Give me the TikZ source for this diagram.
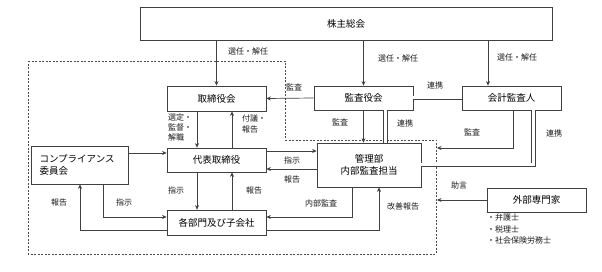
\documentclass[tikz,border=0pt]{standalone}
\usepackage{fontspec}
\newfontfamily\jp{Noto Sans CJK JP}
\usetikzlibrary{arrows.meta}
\begin{document}
\begin{tikzpicture}[x=1pt,y=-1pt,
  box/.style={draw=black!75, line width=0.7pt, font=\jp\fontsize{9.5}{12}\selectfont, inner sep=0pt, align=center, text=black},
  lbl/.style={font=\jp\fontsize{8}{10}\selectfont, inner sep=0pt, text=black!90},
  arr/.style={draw=black!75, line width=0.7pt, -{Stealth[length=4.5pt,width=4pt]}},
  dbl/.style={draw=black!75, line width=0.6pt, double=white, double distance=3pt},
  bnd/.style={draw=black!70, line width=0.7pt, dash pattern=on 2pt off 1.5pt}]
\useasboundingbox (0,0) rectangle (602,272);

% dashed boundary
\draw[bnd] (28,61) -- (285,61) -- (285,140) -- (436,140) -- (436,254) -- (28,254) -- cycle;

% boxes
\node[box, minimum width=412pt, minimum height=33pt] (sh) at (346,23.5) {株主総会};
\node[box, minimum width=99pt, minimum height=25pt] (tb) at (216.5,98.5) {取締役会};
\node[box, minimum width=99pt, minimum height=24pt] (ka) at (363.5,98) {監査役会};
\node[box, minimum width=99pt, minimum height=24pt] (kk) at (511.5,98) {会計監査人};
\node[box, minimum width=99pt, minimum height=24pt] (dh) at (216.5,160) {代表取締役};
\node[box, minimum height=38pt, text width=80pt, inner xsep=8.5pt, align=left] (cp) at (79.5,165) {コンプライアンス\\委員会};
\node[box, minimum width=99pt, minimum height=25pt] (kb) at (216.5,222.5) {各部門及び子会社};
\node[box, minimum width=104pt, minimum height=44pt] (kr) at (369,165) {管理部\\内部監査担当};
\node[box, minimum width=99pt, minimum height=24pt] (gb) at (536.5,200) {外部専門家};

% helper coordinates
\coordinate (x488) at (488,0);
\coordinate (x386) at (385.5,0);
\coordinate (x513) at (513,0);
\coordinate (x533) at (533.5,0);
\coordinate (x197) at (197,0);
\coordinate (x232) at (232,0);
\coordinate (x103) at (103,0);
\coordinate (x80) at (80,0);
\coordinate (x352) at (352,0);
\coordinate (x379) at (379,0);
\coordinate (y153) at (0,153);
\coordinate (y151) at (0,151);
\coordinate (y169) at (0,169);
\coordinate (y217) at (0,217);
\coordinate (y230) at (0,230);
\coordinate (b1) at (437,148);
\coordinate (b2) at (437,200);

% connectors
\draw[arr] (tb.north |- sh.south) -- (tb.north);
\draw[arr] (ka.north |- sh.south) -- (ka.north);
\draw[arr] (sh.south -| x488) -- (kk.north -| x488);
\draw[arr] (ka.west) -- (tb.east);
\draw[dbl] (ka.east) -- (kk.west);
\draw[arr] (ka.south) -- (ka.south |- kr.north);
\draw[dbl] (ka.south -| x386) -- (kr.north -| x386);
\draw[arr] (kk.south -| x513) |- (b1);
\draw[dbl] (kk.south -| x533) |- (kr.east);
\draw[arr] (tb.south -| x197) -- (dh.north -| x197);
\draw[arr] (dh.north -| x232) -- (tb.south -| x232);
\draw[arr] (cp.east |- y153) -- (dh.west |- y153);
\draw[arr] (dh.south -| x197) -- (kb.north -| x197);
\draw[arr] (kb.north -| x232) -- (dh.south -| x232);
\draw[arr] (cp.south -| x103) |- (kb.west |- y217);
\draw[arr] (kb.west |- y230) -| (cp.south -| x80);
\draw[arr] (dh.east |- y151) -- (kr.west |- y151);
\draw[arr] (kr.west |- y169) -- (dh.east |- y169);
\draw[arr] (kr.south -| x352) |- (kb.east |- y217);
\draw[arr] (kb.east |- y230) -| (kr.south -| x379);
\draw[arr] (gb.west) -- (b2);

% labels
\node[lbl] (l1) at (248,51) {選任・解任};
\node[lbl] (l2) at (398,58) {選任・解任};
\node[lbl] (l3) at (517,57) {選任・解任};
\node[lbl] (l4) at (294,87) {監査};
\node[lbl] (l5) at (435,85) {連携};
\node[lbl] (l6) at (340,122) {監査};
\node[lbl] (l7) at (405,123) {連携};
\node[lbl] (l8) at (472,132) {監査};
\node[lbl] (l9) at (554,133) {連携};
\node[lbl, align=left, anchor=north west, font=\jp\fontsize{8}{10}\selectfont] (l10) at (168,114) {選定・\\監督・\\解職};
\node[lbl, align=left, anchor=north west, font=\jp\fontsize{8}{11}\selectfont] (l11) at (242,115) {付議・\\報告};
\node[lbl] (l12) at (176,190) {指示};
\node[lbl] (l13) at (254,190) {報告};
\node[lbl] (l14) at (124,202) {指示};
\node[lbl] (l15) at (59,202) {報告};
\node[lbl] (l16) at (292,160) {指示};
\node[lbl] (l17) at (292,179) {報告};
\node[lbl] (l18) at (321,203) {内部監査};
\node[lbl] (l19) at (403,206) {改善報告};
\node[lbl] (l20) at (459,185) {助言};
\node[lbl, align=left, anchor=north west, font=\jp\fontsize{8}{11.5}\selectfont] (l21) at (487,214) {・弁護士\\・税理士\\・社会保険労務士};
\end{tikzpicture}
\end{document}
